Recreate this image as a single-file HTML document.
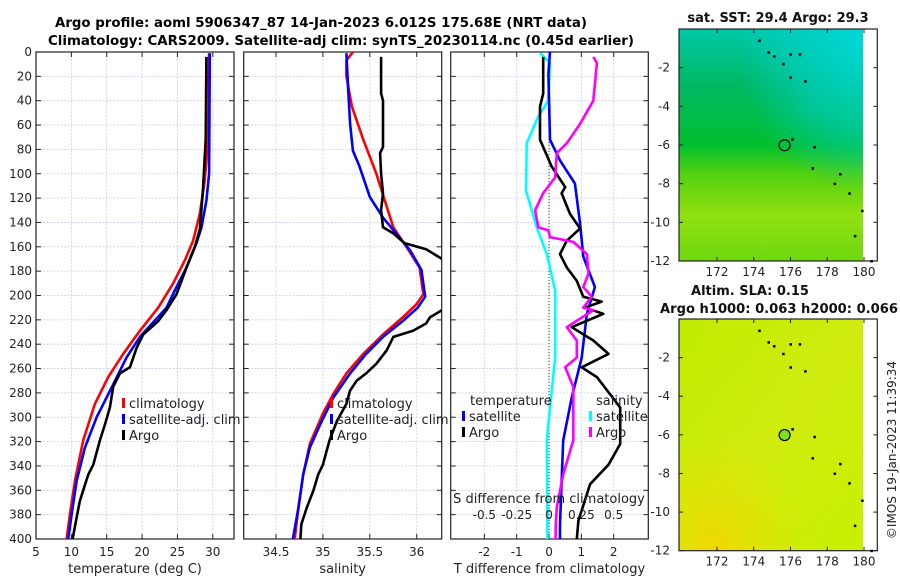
<!DOCTYPE html>
<html><head><meta charset="utf-8"><style>
html,body{margin:0;padding:0;background:#fff;width:900px;height:580px;overflow:hidden}
svg{display:block;font-family:"DejaVu Sans","Liberation Sans",sans-serif}
</style></head><body>
<svg id="fig" width="900" height="580" viewBox="0 0 900 580" xmlns="http://www.w3.org/2000/svg">
<defs>
<clipPath id="c1"><rect x="36" y="52" width="198" height="487"/></clipPath>
<clipPath id="c2"><rect x="243.7" y="52" width="198" height="487"/></clipPath>
<clipPath id="c3"><rect x="450.7" y="52" width="197.6" height="487"/></clipPath>
<linearGradient id="sstV" x1="0" y1="0" x2="0" y2="1">
<stop offset="0" stop-color="#00c8a8"/><stop offset="0.25" stop-color="#00b860"/><stop offset="0.5" stop-color="#00c030"/><stop offset="0.62" stop-color="#50d010"/><stop offset="0.8" stop-color="#90e010"/><stop offset="1" stop-color="#70d810"/></linearGradient>
<radialGradient id="sstC" cx="1" cy="0" r="0.7"><stop offset="0" stop-color="#00d8d8"/><stop offset="0.6" stop-color="#00d0c8" stop-opacity="0.6"/><stop offset="1" stop-color="#00c8c0" stop-opacity="0"/></radialGradient>
<linearGradient id="slaV" x1="0" y1="0" x2="1" y2="1"><stop offset="0" stop-color="#c0ec00"/><stop offset="0.5" stop-color="#d0ec10"/><stop offset="1" stop-color="#c8f000"/></linearGradient>
<radialGradient id="slaY" cx="0.2" cy="1" r="0.5"><stop offset="0" stop-color="#f0d800"/><stop offset="1" stop-color="#e8e000" stop-opacity="0"/></radialGradient>
</defs>
<text x="321" y="27" text-anchor="middle" font-weight="bold" font-size="13" textLength="532" lengthAdjust="spacingAndGlyphs">Argo profile: aoml 5906347_87 14-Jan-2023 6.012S 175.68E (NRT data)</text>
<text x="341" y="45" text-anchor="middle" font-weight="bold" font-size="13" textLength="586" lengthAdjust="spacingAndGlyphs">Climatology: CARS2009. Satellite-adj clim: synTS_20230114.nc (0.45d earlier)</text>
<g id="plots"></g>
<g id="maps"></g>
<text transform="translate(896,450) rotate(-90)" text-anchor="middle" font-size="12" fill="#222">©IMOS 19-Jan-2023 11:39:34</text>
</svg>
<script>
// ---- data: depths (m) and values ----
const tClimD=[1,72,105,133,155,171,190,210,229,248,267,289,319,352,380,400];
const tClimV=[29.48,29.34,28.87,28.16,27.22,26.05,24.4,22.28,19.69,17.33,15.21,13.33,11.68,10.51,9.8,9.33];
const tSatD=[1,100,122,144,157,177,193,210,234,251,273,300,325,352,380,400];
const tSatV=[29.58,29.48,29.1,28.4,27.7,26.28,24.87,23.46,19.69,17.8,15.92,13.57,11.92,10.75,10.04,9.56];
const tArgoD=[4,72,114,146,160,177,199,212,221,232,243,259,264,275,292,306,319,339,347,360,369,382,400];
const tArgoV=[29.1,29.0,28.6,28.16,27.45,26.28,24.87,23.46,22.28,20.16,19.22,18.28,16.86,15.92,15.45,14.75,14.04,13.1,12.39,11.68,11.2,10.75,10.18];
const sClimD=[0,7,20,45,72,100,122,144,160,177,199,207,218,232,248,264,281,297,322,347,374,400];
const sClimV=[35.32,35.25,35.25,35.31,35.43,35.57,35.66,35.75,35.89,36.03,36.07,36.0,35.85,35.64,35.43,35.25,35.11,35.0,34.86,34.79,34.74,34.7];
const sSatD=[1,31,59,81,94,119,136,149,163,179,201,210,221,234,248,264,284,306,325,347,374,400];
const sSatV=[35.25,35.27,35.29,35.32,35.39,35.5,35.64,35.78,35.93,36.05,36.09,36.01,35.85,35.64,35.46,35.29,35.11,34.97,34.86,34.79,34.74,34.68];
const sArgoD=[4,34,40,78,83,100,116,130,144,149,157,162,170,180,195,208,212,218,223,229,234,245,256,264,270,278,289,303,319,339,347,360,374,388,400];
const sArgoV=[35.62,35.62,35.64,35.64,35.61,35.62,35.64,35.62,35.64,35.75,35.87,36.1,36.27,36.4,36.45,36.4,36.27,36.14,36.1,35.96,35.75,35.68,35.57,35.46,35.36,35.29,35.25,35.15,35.07,35.0,34.95,34.9,34.83,34.77,34.76];
// differences from climatology
const dTsatD=[0,17.5,72,89,108,141,168,193,215,251,284,319,388,400];
const dTsatV=[0.03,-0.02,0.03,0.34,0.8,0.96,1.06,1.42,1.17,1.01,0.7,0.44,0.34,0.34];
const dTargoD=[4,34,45,72,94,111,116,133,145,155,166,177,188,201,205,210,215,226,237,248,259,267,292,322,339,355,385,400];
const dTargoV=[-0.18,-0.18,-0.28,-0.28,0.08,0.5,0.39,0.65,0.96,0.55,0.34,0.55,0.86,1.06,1.63,1.11,1.68,0.7,1.37,1.84,1.01,1.48,2.2,2.2,1.84,1.27,0.91,0.86];
const dSsatD=[1,9,40,53,75,114,144,166,196,251,292,319,388,400];
const dSsatV=[-0.07,0.0075,-0.005,-0.0825,-0.1725,-0.1775,-0.095,-0.0175,0.0475,0.0475,0.0075,-0.0175,-0.0125,-0.0125];
const dSargoD=[4,9,40,59,75,83,103,116,130,144,146.5,152,156,166,182,193,201,210,212,226,237,251,259,275,319,347,374,389,400];
const dSargoV=[0.3425,0.37,0.3425,0.24,0.1375,0.06,0.0475,-0.045,-0.1075,-0.0825,-0.005,0.0075,0.1875,0.2925,0.305,0.265,0.33,0.265,0.3425,0.1375,0.215,0.215,0.125,0.1875,0.1875,0.11,0.06,0.0525,0.05];
const depthTicks=[0,20,40,60,80,100,120,140,160,180,200,220,240,260,280,300,320,340,360,380,400];
const tTicks=[5,10,15,20,25,30];
const sTicks=[34.5,35,35.5,36];
const dTTicks=[-2,-1,0,1,2];
const dSTicks=[-0.5,-0.25,0,0.25,0.5];
const lonTicks=[172,174,176,178,180];
const latTicks=[-2,-4,-6,-8,-10,-12];
const argoLon=175.68, argoLat=-6.012;

const NS='http://www.w3.org/2000/svg';
const plots=document.getElementById('plots');
const maps=document.getElementById('maps');
function mk(tag,attrs,parent,text){const e=document.createElementNS(NS,tag);for(const k in attrs)e.setAttribute(k,attrs[k]);if(text!==undefined)e.textContent=text;(parent||plots).appendChild(e);return e;}
const Y0=52,Y1=539;
const yD=d=>Y0+(d/400)*(Y1-Y0);
function lin(d0,d1,r0,r1){return v=>r0+(v-d0)/(d1-d0)*(r1-r0);}
const S_SCALE=4;
const panels=[
 {x0:36,x1:234,lo:5,hi:33,ticks:tTicks,label:'temperature (deg C)',name:'temperature-panel',clip:'c1'},
 {x0:243.7,x1:441.7,lo:34.156,hi:36.266,ticks:sTicks,label:'salinity',name:'salinity-panel',clip:'c2'},
 {x0:450.7,x1:648.3,lo:-3.04,hi:3.07,ticks:dTTicks,label:'T difference from climatology',name:'difference-panel',clip:'c3'}
];
panels.forEach((p,i)=>{
  p.sx=lin(p.lo,p.hi,p.x0,p.x1);
  const g=mk('g',{},plots);
  
  
  depthTicks.forEach(d=>{const l=mk('line',{x1:p.x0,x2:p.x1,y1:yD(d),y2:yD(d),stroke:'#c8cce8','stroke-width':0.8,'stroke-dasharray':'2,1.5'},g);
    
    mk('line',{x1:p.x0,x2:p.x0+5,y1:yD(d),y2:yD(d),stroke:'#222'},g);mk('line',{x1:p.x1-5,x2:p.x1,y1:yD(d),y2:yD(d),stroke:'#222'},g);
    if(i===0){const t=mk('text',{x:p.x0-4,y:yD(d)+4,'text-anchor':'end','font-size':12,fill:'#222'},g,String(d));}
  });
  p.ticks.forEach(v=>{const x=p.sx(v);mk('line',{x1:x,x2:x,y1:Y0,y2:Y1,stroke:'#c8cce8','stroke-width':0.8,'stroke-dasharray':'2,1.5'},g);
    mk('line',{x1:x,x2:x,y1:Y1-5,y2:Y1,stroke:'#222'},g);mk('line',{x1:x,x2:x,y1:Y0,y2:Y0+5,stroke:'#222'},g);
    const t=mk('text',{x:x,y:Y1+17,'text-anchor':'middle','font-size':12,fill:'#222'},g,String(v));});
  const xl=mk('text',{x:(p.x0+p.x1)/2,y:Y1+34,'text-anchor':'middle','font-size':13,fill:'#222'},g,p.label);
  
  const fr=mk('rect',{x:p.x0,y:Y0,width:p.x1-p.x0,height:Y1-Y0,fill:'none',stroke:'#222','stroke-width':1.2},g);
  
  p.g=g;
});
function series(p,D,V,color,name,w,scale){
  const sc=scale||1;
  let d='';D.forEach((dd,k)=>{d+=(k?'L':'M')+p.sx(V[k]*sc).toFixed(1)+','+yD(dd).toFixed(1);});
  const e=mk('path',{d:d,fill:'none',stroke:color,'stroke-width':w||2.6,'stroke-linejoin':'round','clip-path':'url(#'+p.clip+')'},p.g);
  
}
const zl=mk('line',{x1:panels[2].sx(0),x2:panels[2].sx(0),y1:Y0,y2:Y1,stroke:'#333','stroke-width':1,'stroke-dasharray':'1,2'},panels[2].g);

series(panels[0],tClimD,tClimV,'#ff0000','temp-climatology-line');
series(panels[0],tSatD,tSatV,'#0000ff','temp-satellite-line');
series(panels[0],tArgoD,tArgoV,'#000','temp-argo-line');
series(panels[1],sClimD,sClimV,'#ff0000','sal-climatology-line');
series(panels[1],sSatD,sSatV,'#0000ff','sal-satellite-line');
series(panels[1],sArgoD,sArgoV,'#000','sal-argo-line');
series(panels[2],dSsatD,dSsatV,'#00ffff','sdiff-satellite-line',2.6,S_SCALE);
series(panels[2],dTsatD,dTsatV,'#0000ff','tdiff-satellite-line');
series(panels[2],dTargoD,dTargoV,'#000','tdiff-argo-line');
series(panels[2],dSargoD,dSargoV,'#ff00ff','sdiff-argo-line',2.6,S_SCALE);
const p3=panels[2];
const sdt=mk('text',{x:549,y:503,'text-anchor':'middle','font-size':13,fill:'#222'},p3.g,'S difference from climatology');

dSTicks.forEach(v=>{const t=mk('text',{x:p3.sx(v*S_SCALE),y:519,'text-anchor':'middle','font-size':12,fill:'#222'},p3.g,String(v));});
function legend(g,x,y,color,label){mk('rect',{x:x,y:y-10,width:3,height:10,fill:color},g);
  const t=mk('text',{x:x+7,y:y,'font-size':13,fill:'#222'},g,label);
  }
[[panels[0],122],[panels[1],330]].forEach(([p,x])=>{
  legend(p.g,x,408,'#ff0000','climatology');legend(p.g,x,424,'#0000ff','satellite-adj. clim');legend(p.g,x,440,'#000','Argo');});
const lh1=mk('text',{x:470,y:405,'font-size':13,fill:'#222'},p3.g,'temperature');
const lh2=mk('text',{x:596,y:405,'font-size':13,fill:'#222'},p3.g,'salinity');
legend(p3.g,462,421,'#0000ff','satellite');legend(p3.g,462,437,'#000','Argo');
legend(p3.g,589,421,'#00ffff','satellite');legend(p3.g,589,437,'#ff00ff','Argo');

// ---- maps ----
const MX0=679,MXimg=863,MX1=877.3;
const mlon=lin(172,180,717,864);
function map(top,bot,fills,name,dotFill){
  const g=mk('g',{},maps);
  const mlat=lin(-2,-12,top+(bot-top)*(2/12),bot);
  fills.forEach(f=>mk('rect',{x:MX0,y:top,width:MXimg-MX0,height:bot-top,fill:f},g));
  mk('rect',{x:MX0,y:top,width:MX1-MX0,height:bot-top,fill:'none',stroke:'#222','stroke-width':1.2},g);
  lonTicks.forEach(v=>{const x=mlon(v);mk('line',{x1:x,x2:x,y1:bot-4,y2:bot,stroke:'#222'},g);mk('line',{x1:x,x2:x,y1:top,y2:top+4,stroke:'#222'},g);
    const t=mk('text',{x:x,y:bot+15,'text-anchor':'middle','font-size':12,fill:'#222'},g,String(v));});
  latTicks.forEach(v=>{const y=mlat(v);mk('line',{x1:MX0,x2:MX0+4,y1:y,y2:y,stroke:'#222'},g);mk('line',{x1:MX1-4,x2:MX1,y1:y,y2:y,stroke:'#222'},g);
    const t=mk('text',{x:670,y:y+4,'text-anchor':'end','font-size':12,fill:'#222'},g,String(v));});
  const isl=[[174.3,-0.6],[174.8,-1.2],[175.1,-1.4],[176,-1.3],[176.5,-1.3],[175.6,-1.8],[176,-2.5],[176.8,-2.7],[176.1,-5.7],[177.3,-6.1],[177.2,-7.2],[178.7,-7.5],[178.4,-8],[179.2,-8.5],[179.9,-9.4],[179.5,-10.7],[180.4,-12]];
  isl.forEach(([lo,la])=>mk('rect',{x:mlon(lo)-1,y:mlat(la)-1,width:2.5,height:2.5,fill:'#000'},g));
  const c=mk('circle',{cx:mlon(argoLon),cy:mlat(argoLat),r:5.5,fill:dotFill,stroke:'#000','stroke-width':1.2},g);
  
}
map(29,261,['url(#sstV)','url(#sstC)'],'sst-map','none');
map(319,550.7,['url(#slaV)','url(#slaY)'],'sla-map','#80e020');
const mt1=mk('text',{x:778,y:22,'text-anchor':'middle','font-weight':'bold','font-size':13,fill:'#111'},maps,'sat. SST: 29.4 Argo: 29.3');

const mt2=mk('text',{x:750,y:295,'text-anchor':'middle','font-weight':'bold','font-size':13,fill:'#111'},maps,'Altim. SLA: 0.15');

const mt3=mk('text',{x:779,y:313,'text-anchor':'middle','font-weight':'bold','font-size':13,fill:'#111',textLength:238,lengthAdjust:'spacingAndGlyphs'},maps,'Argo h1000: 0.063 h2000: 0.066');

</script>
</body></html>
